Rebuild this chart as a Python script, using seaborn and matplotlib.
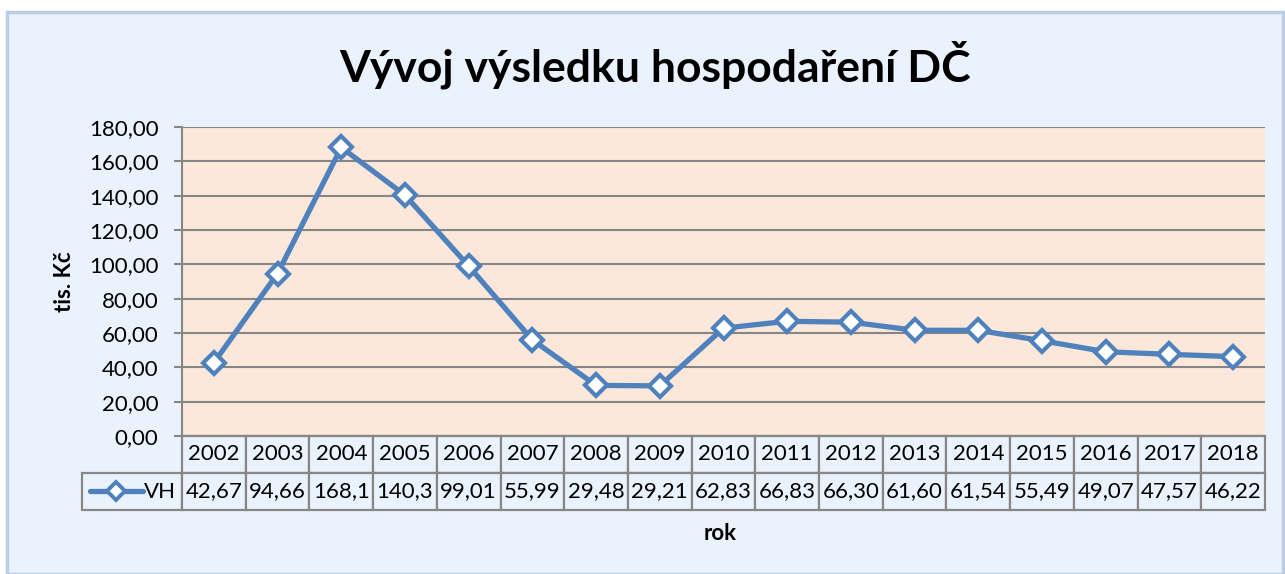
import matplotlib.pyplot as plt
import matplotlib.patches as patches
import numpy as np
import pandas as pd
import seaborn as sns
from matplotlib.ticker import FuncFormatter, MultipleLocator

# data
years = [2002, 2003, 2004, 2005, 2006, 2007, 2008, 2009, 2010,
         2011, 2012, 2013, 2014, 2015, 2016, 2017, 2018]
vh = [42.67, 94.66, 168.1, 140.3, 99.01, 55.99, 29.48, 29.21, 62.83,
      66.83, 66.30, 61.60, 61.54, 55.49, 49.07, 47.57, 46.22]
# table shows the values as Excel truncated them
vh_labels = ["42,67", "94,66", "168,1", "140,3", "99,01", "55,99", "29,48", "29,21", "62,83",
             "66,83", "66,30", "61,60", "61,54", "55,49", "49,07", "47,57", "46,22"]
series_name = "VH"
title = "Vývoj výsledku hospodaření DČ"
ylabel = "tis. Kč"
xlabel = "rok"

LINE = "#4F81BD"
GRID = "#868686"
PLOT_BG = "#FBE8DA"
CHART_BG = "#EAF3FD"

sns.set_theme(style="white")
plt.rcParams["font.family"] = ["Lato", "DejaVu Sans"]
plt.rcParams["text.color"] = "black"
plt.rcParams["ytick.color"] = "black"
plt.rcParams["axes.labelcolor"] = "black"

fig = plt.figure(figsize=(12.85, 5.74), dpi=100, facecolor="white")

# chart area frame (Excel style)
W, H = 1285, 574
frame = patches.Rectangle((7 / W, 0), (1283 - 7) / W, (574 - 12) / H,
                          transform=fig.transFigure, facecolor=CHART_BG,
                          edgecolor="#B9CDE5", linewidth=2.5, zorder=-5)
fig.patches.append(frame)

ax = fig.add_axes([182 / W, (574 - 436) / H, (1265 - 182) / W, (436 - 127) / H])
ax.set_zorder(2)
ax.set_facecolor(PLOT_BG)

df = pd.DataFrame({"idx": np.arange(len(years)), "value": vh})
sns.lineplot(data=df, x="idx", y="value", ax=ax, color=LINE, linewidth=3.8,
             marker="D", markersize=11, markerfacecolor="white",
             markeredgecolor=LINE, markeredgewidth=3.0, zorder=5)

ax.set_xlim(-0.5, len(years) - 0.5)
ax.set_ylim(0, 180)
ax.yaxis.set_major_locator(MultipleLocator(20))
ax.yaxis.set_major_formatter(FuncFormatter(lambda v, p: f"{v:.2f}".replace(".", ",")))
ax.grid(axis="y", color=GRID, linewidth=1.5)
ax.set_axisbelow(True)
ax.set_xticks([])
ax.tick_params(axis="y", which="major", left=True, length=6, width=1.5, color=GRID,
               labelsize=16, pad=11, labelcolor="black")
for s in ["top", "right"]:
    ax.spines[s].set_visible(False)
for s in ["left", "bottom"]:
    ax.spines[s].set_color(GRID)
    ax.spines[s].set_linewidth(1.5)
ax.set_xlabel("")
ax.set_ylabel(ylabel, fontsize=16, fontweight="bold", labelpad=10, color="black")

# data table under the plot
ncol = len(years)
label_w = 100 / 1083
cell_w = 1.0 / ncol
tot_w = label_w + 1.0
h_tbl = (510 - 436) / (436 - 127)
cells = [[""] + [str(y) for y in years], [series_name] + vh_labels]
tbl = ax.table(cellText=cells, cellLoc="center",
               colWidths=[label_w / tot_w] + [cell_w / tot_w] * ncol,
               bbox=[-label_w, -h_tbl, tot_w, h_tbl])
tbl.auto_set_font_size(False)
tbl.set_fontsize(16)
for (r, c), cell in tbl.get_celld().items():
    cell.set_edgecolor(GRID)
    cell.set_linewidth(1.6)
    cell.set_facecolor(CHART_BG)
    cell.get_text().set_color("black")
    if r == 0 and c == 0:
        cell.visible_edges = ""
    if r == 1 and c == 0:
        cell.get_text().set_ha("right")
        cell._loc = "right"
        cell.PAD = 0.06

# legend key inside the VH cell
ky = -h_tbl * 0.74
kx0 = -label_w + 0.0075
kx1 = -label_w + 0.056
ax.plot([kx0, kx1], [ky, ky], transform=ax.transAxes, clip_on=False,
        color=LINE, linewidth=3.8, zorder=6)
ax.plot([(kx0 + kx1) / 2], [ky], transform=ax.transAxes, clip_on=False,
        marker="D", markersize=9, markerfacecolor="white",
        markeredgecolor=LINE, markeredgewidth=2.8, zorder=7)

fig.text(720 / W, 1 - 533 / H, xlabel, ha="center", va="center",
         fontsize=16, fontweight="bold", color="black")
fig.text(655 / W, 1 - 65 / H, title, ha="center", va="center",
         fontsize=32, fontweight="bold", color="black")

fig.savefig("out.png", dpi=100, facecolor="white")
